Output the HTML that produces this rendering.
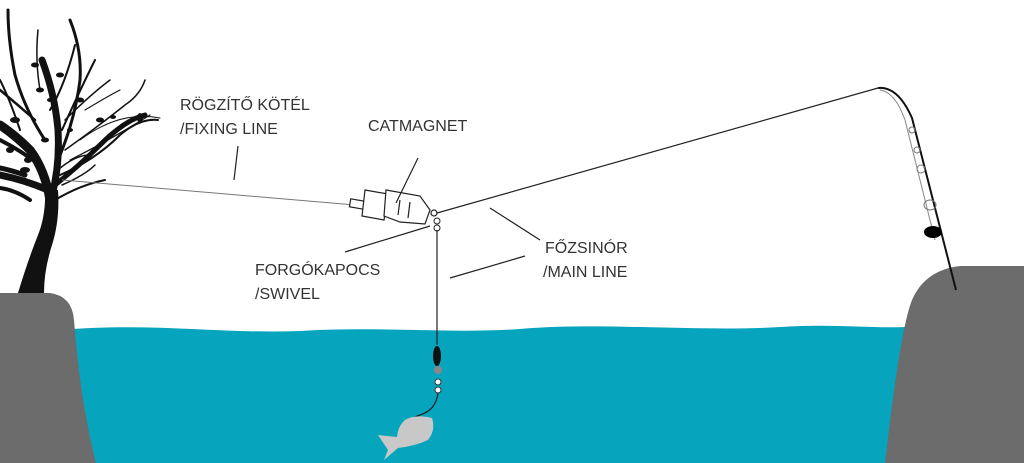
<!DOCTYPE html>
<html><head><meta charset="utf-8"><style>
html,body{margin:0;padding:0;background:#fff;}
svg{display:block}
text{font-family:"Liberation Sans",sans-serif;font-size:16px;fill:#333;}
</style></head><body>
<svg width="1024" height="463" viewBox="0 0 1024 463" xmlns="http://www.w3.org/2000/svg">
<rect width="1024" height="463" fill="#fff"/>
<path d="M60 330 C150 322 220 334 300 331 C380 326 450 334 520 329 C600 322 700 332 780 327 C840 323 880 330 920 326 L890 463 L80 463 Z" fill="#06a5bd"/>
<path d="M0 293 L50 293 Q72 296 74 320 Q80 400 96 463 L0 463 Z" fill="#6c6c6c"/>
<path d="M1024 266 L960 266 Q925 270 912 300 Q900 330 885 463 L1024 463 Z" fill="#6c6c6c"/>
<path d="M18 293 Q28 260 38 235 Q46 215 45 190 L58 190 Q60 220 52 245 Q44 270 44 293 Z" fill="#111"/>
<g stroke="#111" fill="none" stroke-linecap="round">
<path d="M50 200 Q45 170 30 150 Q15 135 0 125" stroke-width="9"/>
<path d="M52 195 Q60 165 58 130 Q55 95 42 60" stroke-width="7"/>
<path d="M48 190 Q25 180 0 175" stroke-width="7"/>
<path d="M55 185 Q80 165 100 145 Q125 120 145 115" stroke-width="5"/>
<path d="M58 160 Q75 120 80 80 Q82 50 70 20" stroke-width="3"/>
<path d="M45 140 Q25 110 15 75 Q8 40 8 10" stroke-width="3"/>
<path d="M60 175 Q95 160 120 135 Q140 118 158 120" stroke-width="2"/>
<path d="M62 130 Q80 90 95 60" stroke-width="2"/>
<path d="M35 120 Q18 105 0 90" stroke-width="2.5"/>
<path d="M55 200 Q80 185 105 180" stroke-width="2"/>
<path d="M40 165 Q20 150 0 140" stroke-width="4"/>
<path d="M50 110 Q65 85 75 45" stroke-width="2"/>
<path d="M30 200 Q15 190 0 188" stroke-width="4"/>
<path d="M65 150 Q100 125 125 105 Q140 95 145 80" stroke-width="1.5"/>
<path d="M62 185 Q85 175 95 165" stroke-width="1.5"/>
<path d="M58 170 Q75 155 90 155" stroke-width="1.5"/>
<path d="M20 130 Q10 100 0 80" stroke-width="2"/>
<path d="M40 90 Q35 60 38 30" stroke-width="1.5"/>
<path d="M85 110 Q110 95 120 90" stroke-width="1.2"/>
<path d="M25 175 Q10 170 0 168" stroke-width="5"/>
<path d="M70 160 Q110 140 150 115" stroke-width="1.2"/>
<path d="M80 140 Q120 110 160 118" stroke-width="1"/>
<path d="M65 120 Q90 95 110 80" stroke-width="1.5"/>
</g>
<g fill="#111">
<ellipse cx="15" cy="120" rx="5" ry="3"/><ellipse cx="40" cy="90" rx="4" ry="2.5"/><ellipse cx="60" cy="75" rx="4" ry="2.5"/>
<ellipse cx="100" cy="120" rx="4" ry="2.5"/><ellipse cx="140" cy="118" rx="3" ry="5"/><ellipse cx="25" cy="170" rx="5" ry="3"/>
<ellipse cx="45" cy="140" rx="4" ry="2.5"/><ellipse cx="35" cy="65" rx="4" ry="2.5"/><ellipse cx="80" cy="100" rx="4" ry="2.5"/>
<ellipse cx="113" cy="117" rx="3" ry="2"/><ellipse cx="28" cy="160" rx="4" ry="3"/><ellipse cx="50" cy="100" rx="3" ry="2"/>
<ellipse cx="10" cy="150" rx="4" ry="3"/><ellipse cx="70" cy="130" rx="3" ry="2"/>
</g>
<line x1="62" y1="180" x2="355" y2="205" stroke="#777" stroke-width="1"/>
<g stroke="#222" stroke-width="1.2" fill="#fff">
<rect x="350" y="200" width="14" height="8" transform="rotate(10 357 204)"/>
<path d="M365 190 L388 194 L384 220 L362 216 Z"/>
<path d="M386 190 L420 196 L430 210 L425 224 L400 222 L384 216 Z"/>
<line x1="400" y1="200" x2="398" y2="215"/><line x1="410" y1="202" x2="408" y2="218"/>
<circle cx="434" cy="213" r="3"/>
</g>
<circle cx="437" cy="221" r="3" fill="#fff" stroke="#222"/>
<circle cx="437" cy="228" r="3" fill="#fff" stroke="#222"/>
<line x1="437" y1="213" x2="878" y2="88" stroke="#222" stroke-width="1.2"/>
<path d="M878 88 Q898 86 912 118 L956 290" stroke="#111" stroke-width="2" fill="none"/>
<path d="M880 90 Q895 92 905 120 L935 240" stroke="#888" stroke-width="1" fill="none"/>
<g fill="none" stroke="#777"><ellipse cx="912" cy="130" rx="3" ry="3"/><ellipse cx="917" cy="150" rx="3" ry="3"/><ellipse cx="921" cy="169" rx="4" ry="4"/><ellipse cx="930" cy="205" rx="6" ry="5"/></g>
<ellipse cx="933" cy="232" rx="9" ry="6" fill="#000"/>
<line x1="437" y1="230" x2="437" y2="345" stroke="#222" stroke-width="1.2"/>
<ellipse cx="437" cy="356" rx="4" ry="10" fill="#111"/>
<circle cx="438" cy="370" r="4" fill="#888"/>
<circle cx="438" cy="382" r="3" fill="#fff" stroke="#333"/>
<circle cx="438" cy="390" r="3" fill="#fff" stroke="#333"/>
<path d="M438 393 Q436 410 420 415 Q405 420 410 428 Q415 432 416 425" fill="none" stroke="#222" stroke-width="1.2"/>
<path d="M432 418 Q415 414 405 420 Q398 426 397 437 L378 435 L388 450 L384 460 L398 448 Q415 446 428 440 Q436 430 432 418 Z" fill="#c8c8c8"/>
<g stroke="#222" stroke-width="1.2">
<line x1="234" y1="180" x2="238" y2="146"/>
<line x1="396" y1="203" x2="418" y2="158"/>
<line x1="345" y1="252" x2="430" y2="226"/>
<line x1="490" y1="208" x2="540" y2="240"/>
<line x1="450" y1="278" x2="525" y2="256"/>
</g>
<text x="180" y="110">RÖGZÍTŐ KÖTÉL</text>
<text x="180" y="134">/FIXING LINE</text>
<text x="368" y="131">CATMAGNET</text>
<text x="255" y="275">FORGÓKAPOCS</text>
<text x="255" y="299">/SWIVEL</text>
<text x="545" y="253">FŐZSINÓR</text>
<text x="543" y="277">/MAIN LINE</text>
</svg>
</body></html>
